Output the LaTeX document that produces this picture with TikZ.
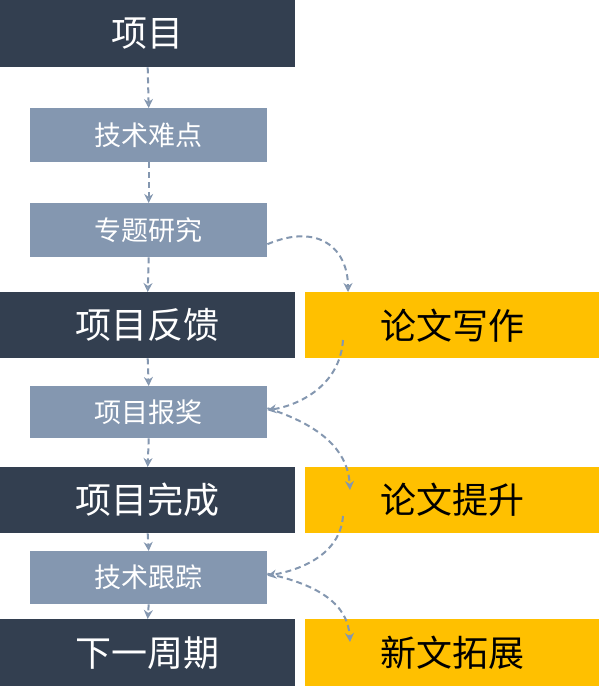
\documentclass[tikz,border=0pt]{standalone}
\usepackage{fontspec}
\setmainfont{Noto Sans CJK SC}
\usetikzlibrary{arrows.meta}
\definecolor{darkb}{HTML}{333F50}
\definecolor{lightb}{HTML}{8497B0}
\definecolor{gold}{HTML}{FFC000}
\tikzset{
 dk/.style={fill=darkb,text=white,font=\fontsize{36}{40}\selectfont,inner sep=0,anchor=north west},
 lt/.style={fill=lightb,text=white,font=\fontsize{27}{30}\selectfont,inner sep=0,anchor=north west},
 yl/.style={fill=gold,text=black,font=\fontsize{36}{40}\selectfont,inner sep=0,anchor=north west},
 arr/.style={draw=lightb,line width=2pt,dashed,dash pattern=on 6pt off 4pt,-{Stealth[length=9pt,width=9pt,open]}},
}
\begin{document}
\begin{tikzpicture}[x=1pt,y=-1pt]
\useasboundingbox (0,0) rectangle (601,689);
\node[dk,minimum width=295pt,minimum height=67pt] (a) at (0,0) {项目};
\node[lt,minimum width=237pt,minimum height=54pt] (b) at (30,108) {技术难点};
\node[lt,minimum width=237pt,minimum height=54pt] (c) at (30,203) {专题研究};
\node[dk,minimum width=295pt,minimum height=66pt] (d) at (0,292) {项目反馈};
\node[yl,minimum width=294pt,minimum height=66pt] (y1) at (305,292) {论文写作};
\node[lt,minimum width=237pt,minimum height=52pt] (e) at (30,386) {项目报奖};
\node[dk,minimum width=295pt,minimum height=66pt] (f) at (0,467) {项目完成};
\node[yl,minimum width=294pt,minimum height=66pt] (y2) at (305,467) {论文提升};
\node[lt,minimum width=237pt,minimum height=53pt] (g) at (30,551) {技术跟踪};
\node[dk,minimum width=295pt,minimum height=67pt] (h) at (0,619) {下一周期};
\node[yl,minimum width=294pt,minimum height=67pt] (y3) at (305,619) {新文拓展};
\draw[arr] (a.south) -- (b.north);
\draw[arr] (b.south) -- (c.north);
\draw[arr] (c.south) -- (d.north);
\draw[arr] (d.south) -- (e.north);
\draw[arr] (e.south) -- (f.north);
\draw[arr] (f.south) -- (g.north);
\draw[arr] (g.south) -- (h.north);
\coordinate (p1) at (348,292);
\coordinate (q1) at (343,340);
\coordinate (p2) at (350,490);
\coordinate (q2) at (343,516);
\coordinate (p3) at (350,642);
\draw[arr] ([yshift=-14pt]c.east) .. controls (320,222) and (348,250) .. (p1);
\draw[arr] (q1) .. controls (340,385) and (300,405) .. ([yshift=2pt]e.east);
\draw[arr] ([yshift=4pt]e.east) .. controls (320,425) and (348,450) .. (p2);
\draw[arr] (q2) .. controls (340,555) and (300,570) .. ([yshift=2pt]g.east);
\draw[arr] ([yshift=4pt]g.east) .. controls (320,585) and (348,605) .. (p3);
\end{tikzpicture}
\end{document}
